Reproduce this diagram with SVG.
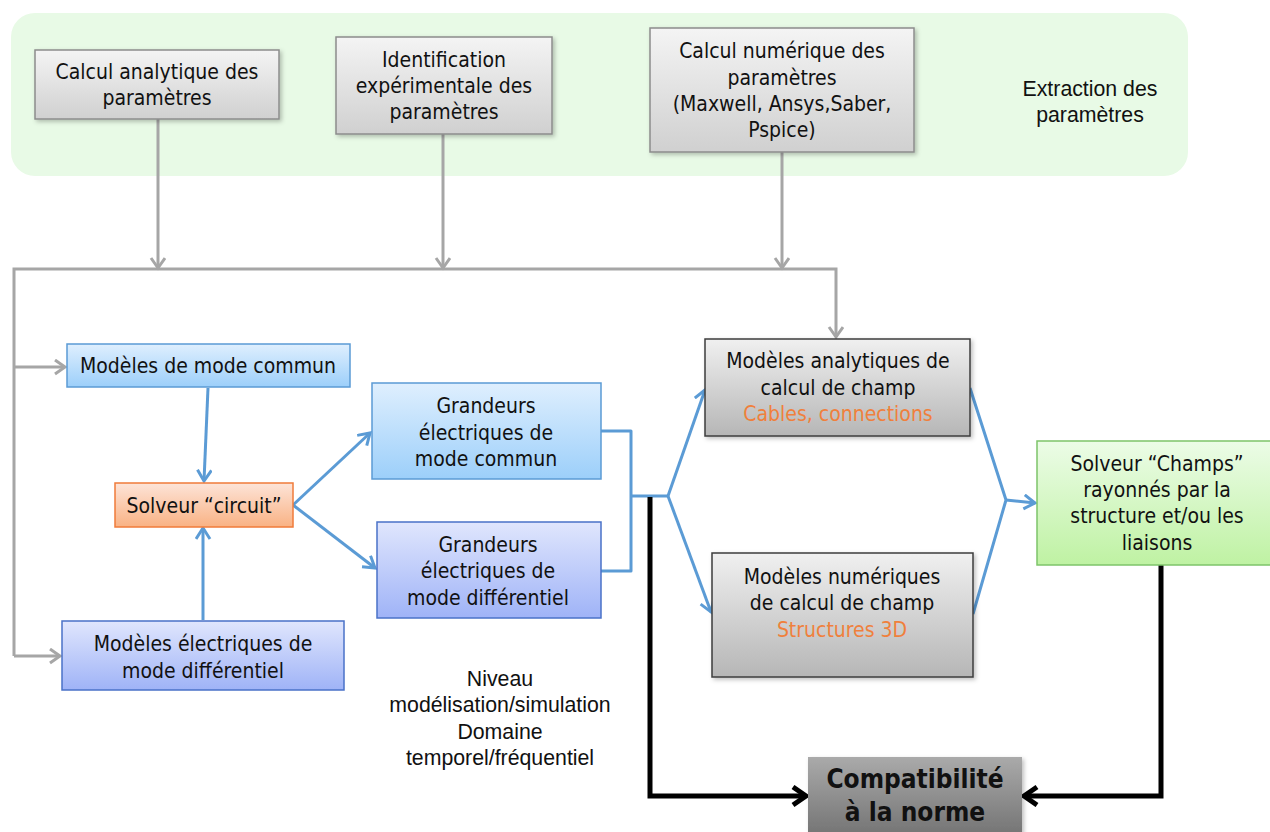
<svg xmlns="http://www.w3.org/2000/svg" width="1270" height="832" viewBox="0 0 1270 832">
  <style>
    .t { font-family: "DejaVu Sans Condensed", "DejaVu Sans", sans-serif; font-stretch: condensed; font-size: 21px; fill: #111; text-anchor: middle; }
    .a { font-family: "Liberation Sans", Arial, sans-serif; font-size: 21.3px; fill: #111; text-anchor: middle; }
    .or { fill: #f0803c; }
    .b { font-weight: bold; font-size: 26px; }
    .gl { fill: none; stroke: #a6a6a6; stroke-width: 3; }
    .bl { fill: none; stroke: #5b9bd5; stroke-width: 3; stroke-linejoin: round; }
    .kl { fill: none; stroke: #000; stroke-width: 5; }
  </style>
  <defs>
    <linearGradient id="gGray" x1="0" y1="0" x2="0" y2="1">
      <stop offset="0" stop-color="#f4f4f4"/>
      <stop offset="1" stop-color="#d0d0d0"/>
    </linearGradient>
    <linearGradient id="gGray2" x1="0" y1="0" x2="0" y2="1">
      <stop offset="0" stop-color="#f0f0f0"/>
      <stop offset="1" stop-color="#b6b6b6"/>
    </linearGradient>
    <linearGradient id="gDark" x1="0" y1="0" x2="0" y2="1">
      <stop offset="0" stop-color="#aaaaaa"/>
      <stop offset="1" stop-color="#6c6c6c"/>
    </linearGradient>
    <linearGradient id="gBlue" x1="0" y1="0" x2="0" y2="1">
      <stop offset="0" stop-color="#dfeffe"/>
      <stop offset="1" stop-color="#9ccffa"/>
    </linearGradient>
    <linearGradient id="gViolet" x1="0" y1="0" x2="0" y2="1">
      <stop offset="0" stop-color="#e0e6fd"/>
      <stop offset="1" stop-color="#9fb3f7"/>
    </linearGradient>
    <linearGradient id="gOrange" x1="0" y1="0" x2="0" y2="1">
      <stop offset="0" stop-color="#fde4d8"/>
      <stop offset="1" stop-color="#f9b284"/>
    </linearGradient>
    <linearGradient id="gGreen" x1="0" y1="0" x2="0" y2="1">
      <stop offset="0" stop-color="#ecfce7"/>
      <stop offset="1" stop-color="#bff2a3"/>
    </linearGradient>
    <marker id="mGray" markerUnits="userSpaceOnUse" markerWidth="20" markerHeight="20" refX="11" refY="8" orient="auto">
      <path d="M1,1 L11,8 L1,15" fill="none" stroke="#a6a6a6" stroke-width="3"/>
    </marker>
    <marker id="mBlue" markerUnits="userSpaceOnUse" markerWidth="20" markerHeight="20" refX="12" refY="8" orient="auto">
      <path d="M1,1 L12,8 L1,15" fill="none" stroke="#5b9bd5" stroke-width="3"/>
    </marker>
    <marker id="mBlack" markerUnits="userSpaceOnUse" markerWidth="24" markerHeight="24" refX="15" refY="11" orient="auto">
      <path d="M2,2 L15,11 L2,20" fill="none" stroke="#000" stroke-width="5"/>
    </marker>
    <filter id="sh" x="-10%" y="-10%" width="130%" height="130%">
      <feDropShadow dx="2" dy="2" stdDeviation="2" flood-color="#000" flood-opacity="0.25"/>
    </filter>
  </defs>

  <!-- parameter extraction band -->
  <g id="extraction">
    <rect x="11" y="13" width="1177" height="163" rx="24" fill="#e8fae6"/>
    <text class="a" x="1090" y="96">Extraction des</text>
    <text class="a" x="1090" y="122">paramètres</text>
  </g>

  <!-- connectors -->
  <g id="connectors">
    <!-- gray: parameter sources to the model inputs -->
    <path class="gl" d="M158,119 V268" marker-end="url(#mGray)"/>
    <path class="gl" d="M443,134 V268" marker-end="url(#mGray)"/>
    <path class="gl" d="M782,152 V268" marker-end="url(#mGray)"/>
    <path class="gl" d="M14,656 V269 H836 V337" marker-end="url(#mGray)"/>
    <path class="gl" d="M14,367 H65" marker-end="url(#mGray)"/>
    <path class="gl" d="M14,656 H60" marker-end="url(#mGray)"/>
    <!-- blue: circuit chain -->
    <path class="bl" d="M208,388 L204,481" marker-end="url(#mBlue)"/>
    <path class="bl" d="M203,620 V528" marker-end="url(#mBlue)"/>
    <path class="bl" d="M293,505 L370,433" marker-end="url(#mBlue)"/>
    <path class="bl" d="M293,505 L375,568" marker-end="url(#mBlue)"/>
    <path class="bl" d="M601,431 H631 V571 H601"/>
    <path class="bl" d="M631,496 H668"/>
    <path class="bl" d="M668,496 L705,390" marker-end="url(#mBlue)"/>
    <path class="bl" d="M668,496 L711,612" marker-end="url(#mBlue)"/>
    <path class="bl" d="M970,388 L1006,500 L973,614"/>
    <path class="bl" d="M1006,500 L1035,503" marker-end="url(#mBlue)"/>
    <!-- black: towards standard compliance -->
    <path class="kl" d="M650,497 V796 H806" marker-end="url(#mBlack)"/>
    <path class="kl" d="M1161,565 V796 H1024" marker-end="url(#mBlack)"/>
  </g>

  <g id="calcul-analytique">
    <rect x="35" y="50" width="244" height="69" fill="url(#gGray)" stroke="#8c8c8c" stroke-width="1.5" filter="url(#sh)"/>
    <text class="t" x="157" y="79">Calcul analytique des</text>
    <text class="t" x="157" y="105">paramètres</text>
  </g>

  <g id="identification">
    <rect x="336" y="37" width="216" height="97" fill="url(#gGray)" stroke="#8c8c8c" stroke-width="1.5" filter="url(#sh)"/>
    <text class="t" x="444" y="67">Identification</text>
    <text class="t" x="444" y="93">expérimentale des</text>
    <text class="t" x="444" y="119">paramètres</text>
  </g>

  <g id="calcul-numerique">
    <rect x="650" y="28" width="264" height="124" fill="url(#gGray)" stroke="#8c8c8c" stroke-width="1.5" filter="url(#sh)"/>
    <text class="t" x="782" y="58">Calcul numérique des</text>
    <text class="t" x="782" y="85">paramètres</text>
    <text class="t" x="782" y="111">(Maxwell, Ansys,Saber,</text>
    <text class="t" x="782" y="137">Pspice)</text>
  </g>

  <g id="modeles-mode-commun">
    <rect x="67" y="344" width="283" height="43" fill="url(#gBlue)" stroke="#5b9bd5" stroke-width="1.5"/>
    <text class="t" x="208" y="373">Modèles de mode commun</text>
  </g>

  <g id="solveur-circuit">
    <rect x="115" y="483" width="178" height="44" fill="url(#gOrange)" stroke="#f07b3a" stroke-width="1.5"/>
    <text class="t" x="204" y="513">Solveur “circuit”</text>
  </g>

  <g id="modeles-mode-differentiel">
    <rect x="62" y="621" width="282" height="69" fill="url(#gViolet)" stroke="#4a72c8" stroke-width="1.5"/>
    <text class="t" x="203" y="651">Modèles électriques de</text>
    <text class="t" x="203" y="678">mode différentiel</text>
  </g>

  <g id="grandeurs-mode-commun">
    <rect x="372" y="383" width="229" height="96" fill="url(#gBlue)" stroke="#5b9bd5" stroke-width="1.5"/>
    <text class="t" x="486" y="413">Grandeurs</text>
    <text class="t" x="486" y="440">électriques de</text>
    <text class="t" x="486" y="466">mode commun</text>
  </g>

  <g id="grandeurs-mode-differentiel">
    <rect x="377" y="522" width="224" height="96" fill="url(#gViolet)" stroke="#4a72c8" stroke-width="1.5"/>
    <text class="t" x="488" y="552">Grandeurs</text>
    <text class="t" x="488" y="578">électriques de</text>
    <text class="t" x="488" y="605">mode différentiel</text>
  </g>

  <g id="modeles-analytiques-champ">
    <rect x="705" y="339" width="265" height="97" fill="url(#gGray2)" stroke="#3c3c3c" stroke-width="1.5" filter="url(#sh)"/>
    <text class="t" x="838" y="368">Modèles analytiques de</text>
    <text class="t" x="838" y="395">calcul de champ</text>
    <text class="t or" x="838" y="421">Cables, connections</text>
  </g>

  <g id="modeles-numeriques-champ">
    <rect x="712" y="553" width="261" height="124" fill="url(#gGray2)" stroke="#3c3c3c" stroke-width="1.5" filter="url(#sh)"/>
    <text class="t" x="842" y="584">Modèles numériques</text>
    <text class="t" x="842" y="610">de calcul de champ</text>
    <text class="t or" x="842" y="637">Structures 3D</text>
  </g>

  <g id="solveur-champs">
    <rect x="1037" y="441" width="240" height="124" fill="url(#gGreen)" stroke="#7ec46a" stroke-width="1.5"/>
    <text class="t" x="1157" y="471">Solveur “Champs”</text>
    <text class="t" x="1157" y="497">rayonnés par la</text>
    <text class="t" x="1157" y="523">structure et/ou les</text>
    <text class="t" x="1157" y="550">liaisons</text>
  </g>

  <g id="compatibilite">
    <rect x="808" y="757" width="214" height="90" fill="url(#gDark)" filter="url(#sh)"/>
    <text class="t b" x="915" y="788">Compatibilité</text>
    <text class="t b" x="915" y="821">à la norme</text>
  </g>

  <g id="niveau">
    <text class="a" x="500" y="686">Niveau</text>
    <text class="a" x="500" y="712">modélisation/simulation</text>
    <text class="a" x="500" y="739">Domaine</text>
    <text class="a" x="500" y="765">temporel/fréquentiel</text>
  </g>
</svg>
